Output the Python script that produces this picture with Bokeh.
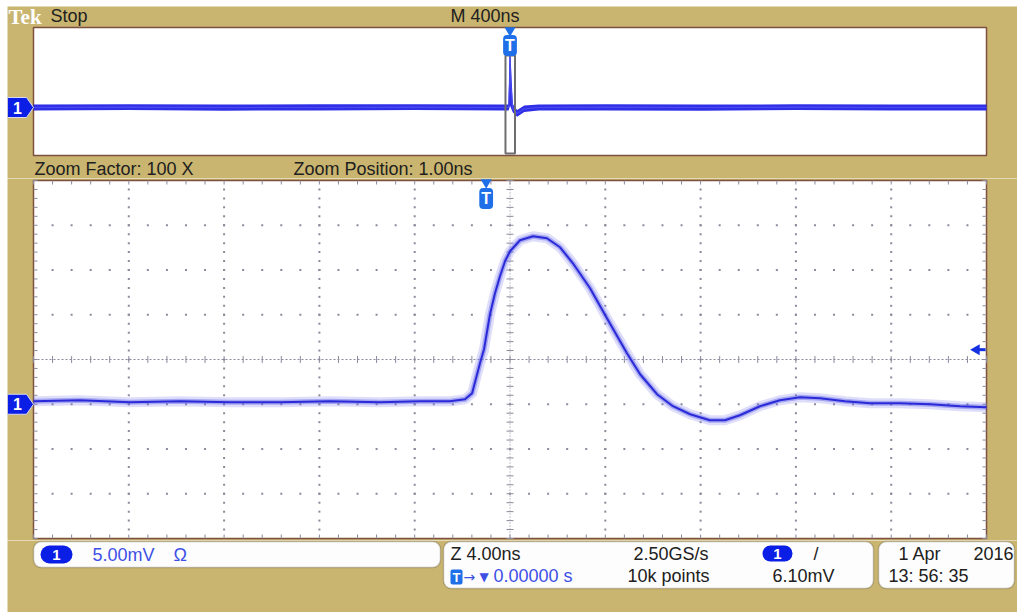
import numpy as np
from bokeh.plotting import figure
from bokeh.layouts import column
from bokeh.models import Range1d, Label, BoxAnnotation
from bokeh.embed import file_html
from bokeh.resources import INLINE

# ---------------- data ----------------
# zoomed acquisition: time relative to trigger (ns), amplitude relative to ground (mV)
zoom_t_ns = [-19.0, -17.05, -14.95, -12.85, -10.75, -8.65, -6.56, -4.46, -2.78, -1.52,
             -0.89, -0.59, -0.26, -0.09, 0.16, 0.37, 0.58, 0.79, 1.00, 1.42,
             1.97, 2.55, 3.10, 3.64, 4.36, 5.07, 5.91, 6.46, 7.17, 7.84,
             8.56, 9.39, 10.02, 10.65, 11.49, 12.33, 13.17, 14.01, 15.06, 16.11,
             17.37, 18.63, 19.89, 21.0]
zoom_mv = [0.34, 0.45, 0.22, 0.34, 0.22, 0.22, 0.34, 0.22, 0.34, 0.34,
           0.56, 1.23, 4.58, 6.15, 10.06, 12.40, 14.30, 15.98, 17.09, 18.32,
           18.77, 18.55, 17.54, 15.75, 12.96, 9.61, 5.70, 3.35, 1.12, -0.22,
           -1.12, -1.79, -1.79, -1.23, -0.22, 0.45, 0.78, 0.67, 0.34, 0.11,
           0.11, 0.0, -0.22, -0.34]

# overview record (400 ns/div): envelope of the displayed trace
overview_t_ns = [-2000, -1600, -1200, -800, -400, -40, -6, -2, 0, 3, 12, 30, 60, 120,
                 400, 800, 1200, 1600, 2000]
overview_hi_mv = [0.9, 1.0, 0.9, 1.0, 1.0, 0.9, 0.9, 16.0, 18.8, 15.0, 1.0, -0.8, 0.6, 0.9,
                  1.0, 0.9, 1.0, 0.9, 0.9]
overview_lo_mv = [-0.9, -0.8, -1.0, -0.9, -0.8, -0.9, -0.9, 0.0, 0.6, 0.0, -1.6, -2.9, -1.4, -0.9,
                  -0.9, -1.0, -0.8, -0.9, -0.9]
overview_mid_mv = [0.0, 0.1, 0.0, 0.0, 0.1, 0.0, 0.0, 8.0, 18.8, 7.5, -0.3, -1.9, -0.4, 0.0,
                   0.1, 0.0, 0.1, 0.0, 0.0]

trig_level_mv = 6.10
trigger_t_ns = 0.0
zoom_center_ns = 1.00
zoom_ns_per_div = 4.0
main_ns_per_div = 400.0
mv_per_div = 5.0
ground_div = -1          # ground sits one division below screen centre
hdivs, vdivs = 10, 8

# texts
txt_tek, txt_state, txt_main = "Tek", "Stop", "M 400ns"
txt_zf, txt_zp = "Zoom Factor: 100 X", "Zoom Position: 1.00ns"
txt_ch_scale, txt_ohm = "5.00mV", "\u03a9"
txt_zscale, txt_rate, txt_pts = "Z 4.00ns", "2.50GS/s", "10k points"
txt_tpos, txt_trig = "0.00000 s", "6.10mV"
txt_date1, txt_date2, txt_time = "1 Apr", "2016", "13: 56: 35"

# ---------------- styling / layout (screen pixels) ----------------
TAN = "#c9b56f"
FRAME = "#7d5040"
GRID = "#8a8a9c"
TXT = "#202020"
BLUE_TXT = "#3d50e6"
MARK = "#0a1ee6"
TBLUE = "#1f6fe8"
FONT = "Liberation Sans"
FS = "18px"

X0, W = 7, 1010             # page area used by the instrument screen
FX0, FX1 = 33, 986          # graticule left/right
A_TOP, A_H = 6, 172
AY0, AY1 = 27, 155          # overview box top/bottom
B_TOP, B_H = 178, 362
BY0, BY1 = 180, 538
C_TOP, C_H = 540, 72

y_lo = -(vdivs / 2 + ground_div) * mv_per_div
y_hi = y_lo + vdivs * mv_per_div
ov_x0 = -hdivs / 2 * main_ns_per_div
ov_x1 = hdivs / 2 * main_ns_per_div
zx0 = zoom_center_ns - hdivs / 2 * zoom_ns_per_div
zx1 = zoom_center_ns + hdivs / 2 * zoom_ns_per_div


def make_fig(top, h):
    p = figure(width=W, height=h, x_range=Range1d(X0, X0 + W), y_range=Range1d(0, h),
               output_backend="svg", toolbar_location=None, x_axis_location=None,
               y_axis_location=None, min_border=0, min_border_left=0, min_border_right=0,
               min_border_top=0, min_border_bottom=0, background_fill_color=TAN,
               border_fill_color=TAN, outline_line_color=None)
    p.grid.visible = False

    def fy(py):
        return top + h - py
    return p, fy


def data_ranges(p, top, h, gy0, gy1, d_x0, d_x1):
    """Extra ranges so that the graticule box maps onto the data limits."""
    kx = (d_x1 - d_x0) / (FX1 - FX0)
    ky = (y_hi - y_lo) / (gy1 - gy0)
    p.extra_x_ranges = {"t": Range1d(d_x0 - (FX0 - X0) * kx, d_x0 + (X0 + W - FX0) * kx)}
    p.extra_y_ranges = {"v": Range1d(y_lo - (top + h - gy1) * ky, y_hi + (gy0 - top) * ky)}
    return kx, ky


def lab(p, x, y, text, color=TXT, size=FS, font=FONT, align="left", base="middle", **kw):
    p.add_layout(Label(x=x, y=y, text=text, text_color=color, text_font_size=size,
                       text_font=font, text_align=align, text_baseline=base, **kw))


def ch_marker(p, fy, gy0, gy1):
    # channel-1 ground marker (pointed tag) at the left of a graticule
    g = gy0 + (y_hi - 0.0) / (y_hi - y_lo) * (gy1 - gy0)
    p.patch([X0, 26, 33, 26, X0], [fy(g - 10), fy(g - 10), fy(g), fy(g + 10), fy(g + 10)],
            fill_color=MARK, line_color="#d8d8f0", line_width=1)
    lab(p, 17, fy(g), "1", color="white", size="16px", align="center", text_font_style="bold")


def t_marker(p, fy, ytri, yshield):
    p.scatter([trigger_t_ns], [fy(ytri)], marker="inverted_triangle", size=11, fill_color=TBLUE,
              line_color=None, x_range_name="t")
    lab(p, trigger_t_ns, fy(yshield), "T", color="white", size="16px", align="center",
        text_font_style="bold", background_fill_color=TBLUE, border_radius=4, padding=2,
        x_range_name="t")


# ---------------- A: header + overview ----------------
pa, fya = make_fig(A_TOP, A_H)
kxa, kya = data_ranges(pa, A_TOP, A_H, AY0, AY1, ov_x0, ov_x1)
pa.quad(left=[FX0], right=[FX1], bottom=[fya(AY1)], top=[fya(AY0)], fill_color="white",
        line_color=FRAME, line_width=1.5)
pa.varea(x=overview_t_ns, y1=overview_lo_mv, y2=overview_hi_mv, fill_color="#1818e6",
         fill_alpha=0.9, x_range_name="t", y_range_name="v")
pa.line(overview_t_ns, overview_mid_mv, line_color="#4a4af0", line_width=1.2,
        x_range_name="t", y_range_name="v")
pa.quad(left=[zx0], right=[zx1], bottom=[fya(153)], top=[fya(55)], fill_color=None,
        line_color="#6e6e6e", line_width=2, x_range_name="t")
t_marker(pa, fya, 30, 45)
ch_marker(pa, fya, AY0, AY1)
lab(pa, 8, fya(16), txt_tek, color="white", size="21px", font="Liberation Serif", text_font_style="bold")
lab(pa, 50, fya(15.5), txt_state)
lab(pa, 450, fya(15.5), txt_main)
lab(pa, 34, fya(168), txt_zf)
lab(pa, 293, fya(168), txt_zp)

# ---------------- B: zoom graticule ----------------
pb, fyb = make_fig(B_TOP, B_H)
kxb, kyb = data_ranges(pb, B_TOP, B_H, BY0, BY1, zx0, zx1)
pb.quad(left=[FX0], right=[FX1], bottom=[fyb(BY1)], top=[fyb(BY0)], fill_color="white",
        line_color=FRAME, line_width=1.5)

xs_major = np.linspace(zx0, zx1, hdivs + 1)
ys_major = np.linspace(y_lo, y_hi, vdivs + 1)
xs_minor = np.linspace(zx0, zx1, hdivs * 5 + 1)
ys_minor = np.linspace(y_lo, y_hi, vdivs * 5 + 1)
cx = zoom_center_ns
cyv = (y_lo + y_hi) / 2

dx, dy = [], []
for x in xs_major[1:-1]:
    if abs(x - cx) < 1e-9:
        continue
    for y in ys_minor[1:-1]:
        dx.append(x); dy.append(y)
for y in ys_major[1:-1]:
    if abs(y - cyv) < 1e-9:
        continue
    for x in xs_minor[1:-1]:
        dx.append(x); dy.append(y)
R = dict(x_range_name="t", y_range_name="v")
pb.scatter(dx, dy, marker="square", size=2, fill_color=GRID, line_color=None, **R)

# centre cross-hair
pb.segment(x0=[cx], y0=[y_lo], x1=[cx], y1=[y_hi], line_color=GRID, line_dash="1 2", **R)
pb.segment(x0=[zx0], y0=[cyv], x1=[zx1], y1=[cyv], line_color=GRID, line_dash="2 2", **R)
pb.scatter([cx] * len(ys_minor), ys_minor, marker="dash", size=7, line_color=GRID, **R)
pb.scatter(xs_minor, [cyv] * len(xs_minor), marker="dash", angle=np.pi / 2, size=7,
           line_color=GRID, **R)
# border ticks (pointing inwards)
tl = 4
pb.segment(x0=[zx0] * len(ys_minor), y0=ys_minor, x1=[zx0 + tl * kxb] * len(ys_minor), y1=ys_minor,
           line_color=GRID, **R)
pb.segment(x0=[zx1] * len(ys_minor), y0=ys_minor, x1=[zx1 - tl * kxb] * len(ys_minor), y1=ys_minor,
           line_color=GRID, **R)
pb.segment(x0=xs_minor, y0=[y_lo] * len(xs_minor), x1=xs_minor, y1=[y_lo + tl * kyb] * len(xs_minor),
           line_color=GRID, **R)
pb.segment(x0=xs_minor, y0=[y_hi] * len(xs_minor), x1=xs_minor, y1=[y_hi - tl * kyb] * len(xs_minor),
           line_color=GRID, **R)

# waveform (persistence look)
pb.line(zoom_t_ns, zoom_mv, line_width=10, line_color="#7a7aee", line_alpha=0.25, line_join="round", **R)
pb.line(zoom_t_ns, zoom_mv, line_width=5, line_color="#5252e6", line_alpha=0.4, line_join="round", **R)
pb.line(zoom_t_ns, zoom_mv, line_width=2, line_color="#2a2ad8", line_join="round", **R)

# trigger level arrow on the right edge
pb.segment(x0=[977], y0=[trig_level_mv], x1=[FX1 - 1], y1=[trig_level_mv], line_color="#1530e0",
           line_width=3, y_range_name="v")
pb.scatter([976], [trig_level_mv], marker="triangle", angle=np.pi / 2, size=11,
           fill_color="#1530e0", line_color=None, y_range_name="v")
t_marker(pb, fyb, 182, 198)
ch_marker(pb, fyb, BY0, BY1)

# ---------------- C: readout boxes ----------------
pc, fyc = make_fig(C_TOP, C_H)


def box(p, l, r, t, b, fill, line=None, rad=8):
    p.add_layout(BoxAnnotation(left=l, right=r, top=fyc(t), bottom=fyc(b), fill_color=fill,
                               fill_alpha=1, line_color=line, line_width=1.5, border_radius=rad))


box(pc, 33, 440, 541, 567, "#fdfdfd", "#4e4430")
box(pc, 443, 873, 541, 588, "#fdfdfd", "#4e4430")
box(pc, 878, 1014, 541, 588, "#fdfdfd", "#4e4430")
box(pc, 40, 72, 545, 563, MARK, None, rad=9)
box(pc, 762, 792, 545, 561, MARK, None, rad=8)
box(pc, 450, 462, 569, 584, TBLUE, None, rad=2)

lab(pc, 56, fyc(554.5), "1", color="white", size="15px", align="center", text_font_style="bold")
lab(pc, 777, fyc(553.5), "1", color="white", size="15px", align="center", text_font_style="bold")
lab(pc, 456, fyc(577), "T", color="white", size="13px", align="center", text_font_style="bold")
lab(pc, 92, fyc(554), txt_ch_scale, color=BLUE_TXT)
lab(pc, 173, fyc(554), txt_ohm, color=BLUE_TXT)
lab(pc, 450, fyc(553), txt_zscale)
lab(pc, 633, fyc(553), txt_rate)
lab(pc, 813, fyc(553), "/")
lab(pc, 463, fyc(576), "\u2192", color=BLUE_TXT, size="14px", font="DejaVu Sans")
lab(pc, 479, fyc(576), "\u25bc", color=BLUE_TXT, size="12px", font="DejaVu Sans")
lab(pc, 493, fyc(575), txt_tpos, color=BLUE_TXT)
lab(pc, 627, fyc(575), txt_pts)
lab(pc, 772, fyc(575), txt_trig)
lab(pc, 898, fyc(553), txt_date1)
lab(pc, 973, fyc(553), txt_date2)
lab(pc, 888, fyc(575), txt_time)

layout = column(pa, pb, pc, spacing=0, margin=(A_TOP, 0, 0, X0))
open("out.html", "w").write(file_html(layout, INLINE))
